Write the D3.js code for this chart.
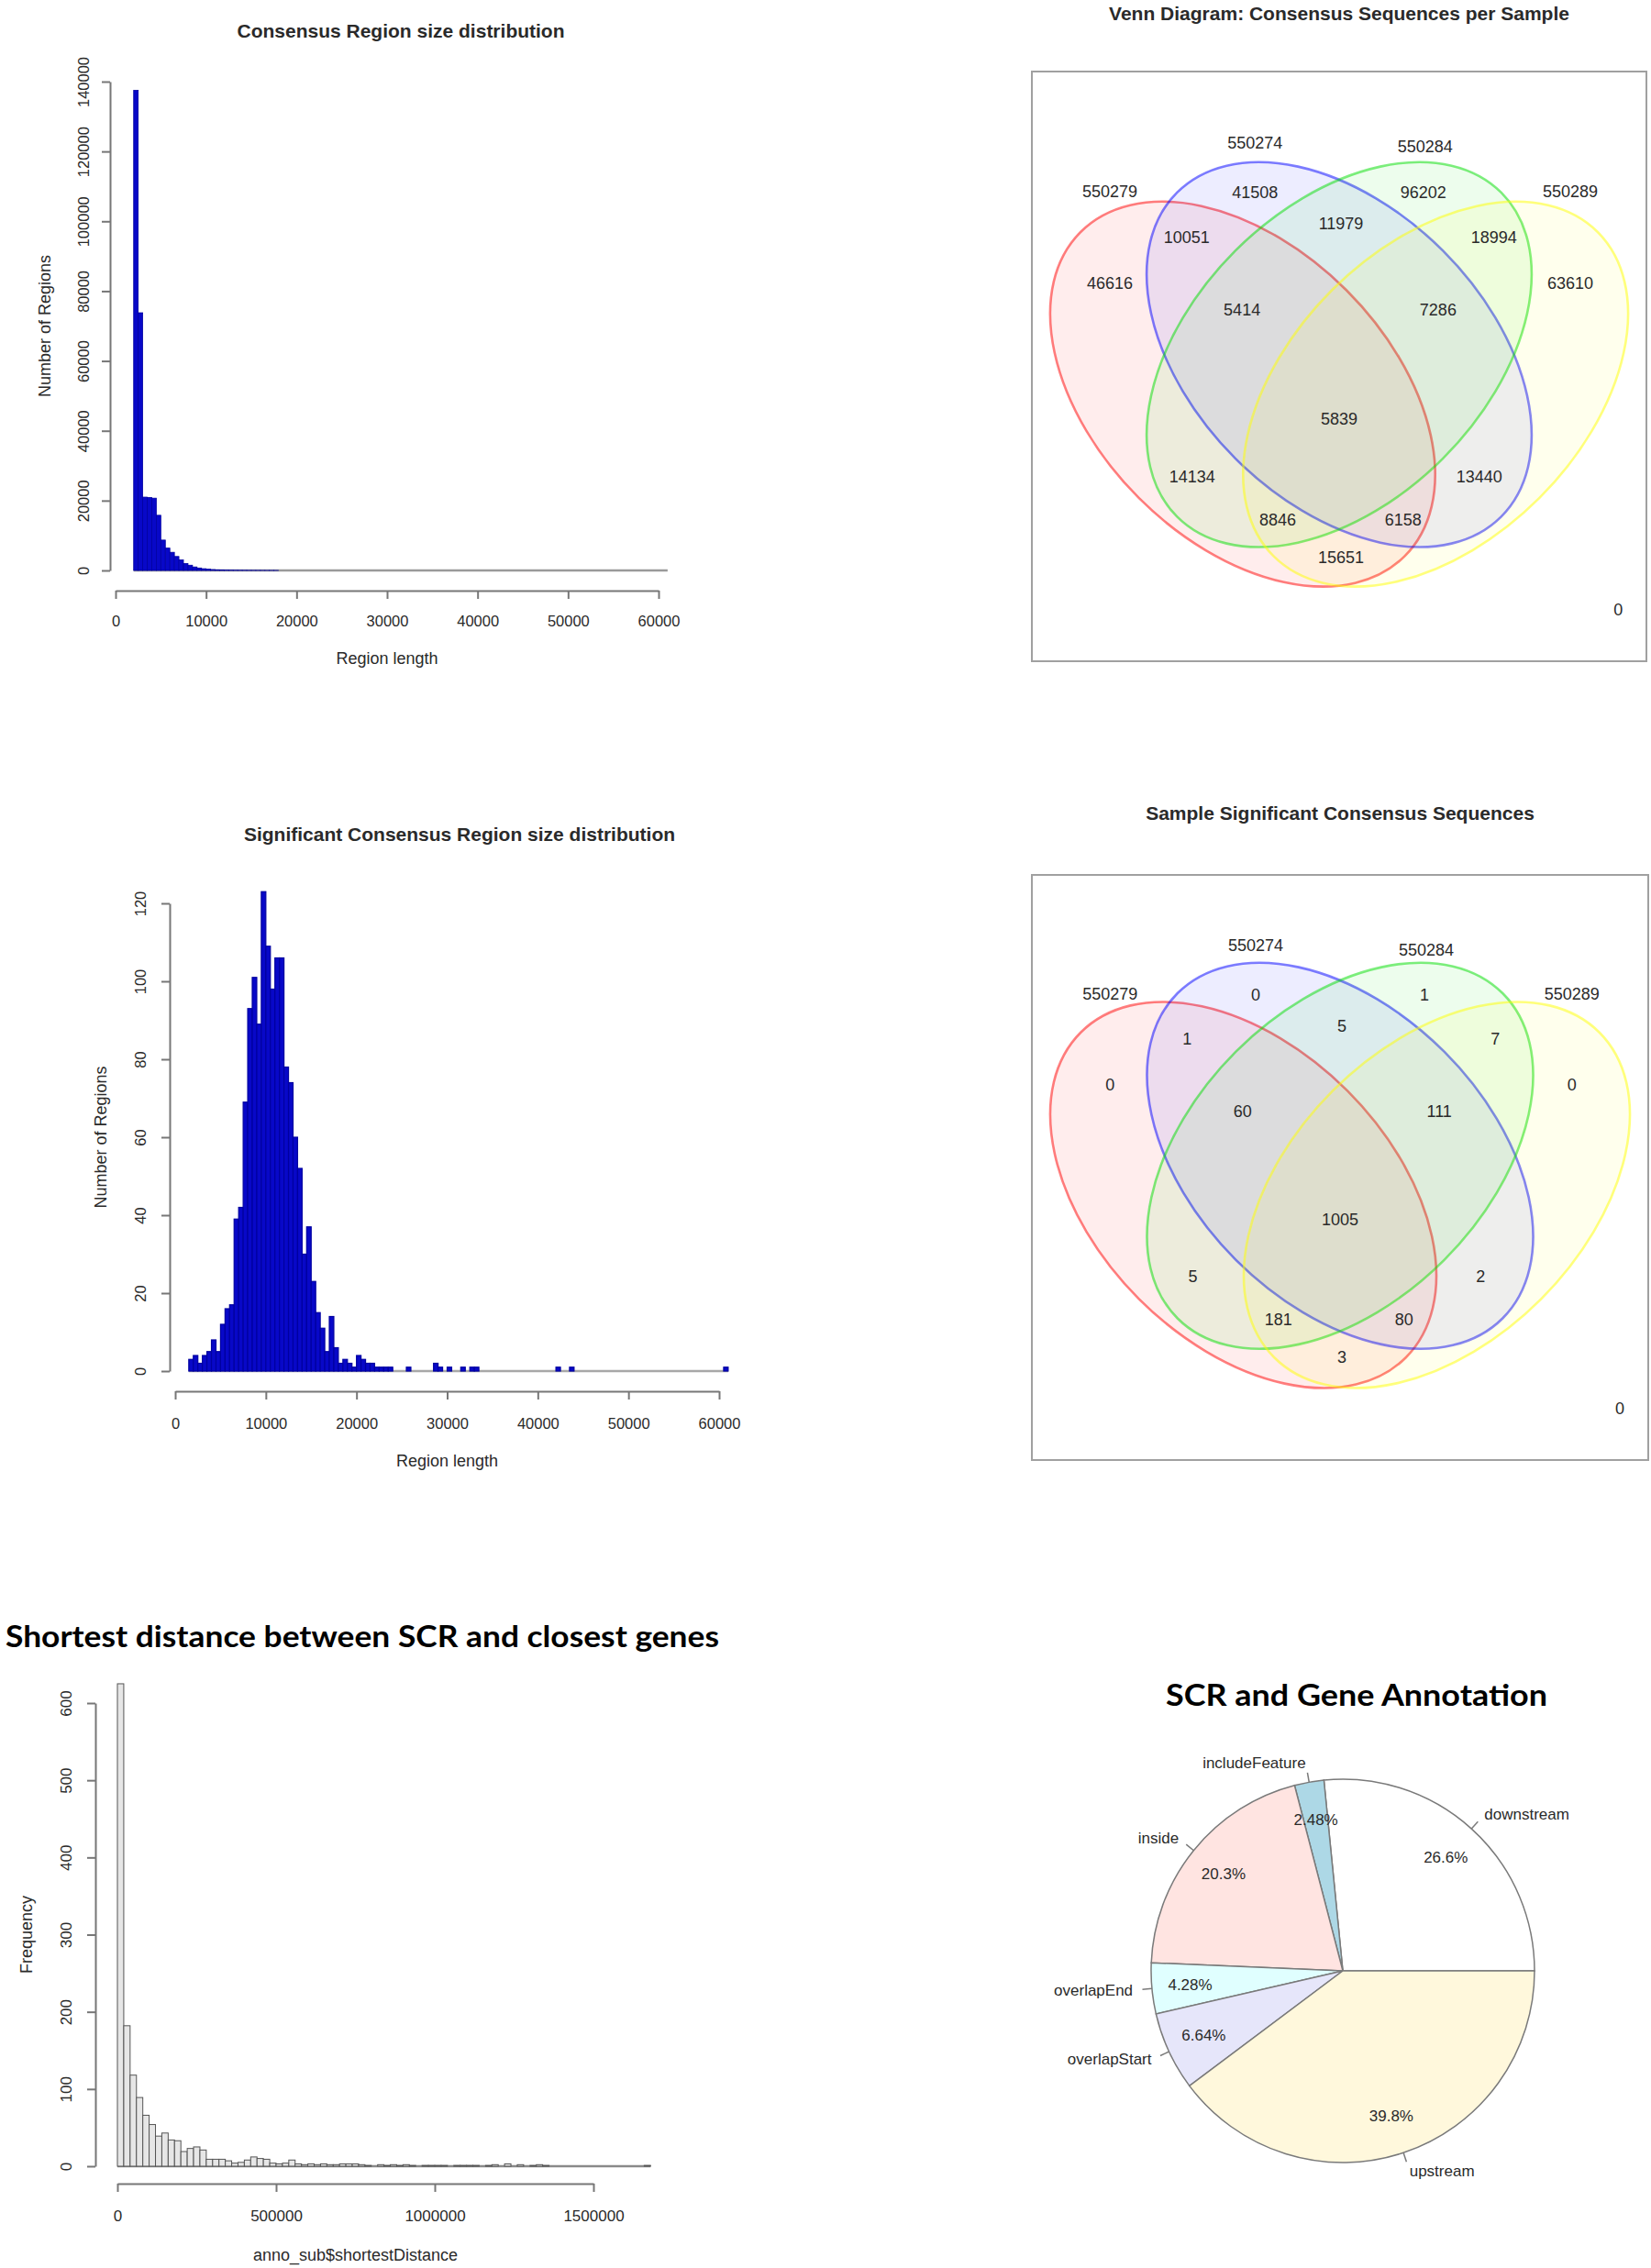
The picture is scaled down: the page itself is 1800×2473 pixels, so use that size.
<!DOCTYPE html>
<html>
<head>
<meta charset="utf-8">
<script src="https://cdn.jsdelivr.net/npm/d3@7"></script>
<style>
  body { margin: 0; background: #fff; }
  svg text { font-family: "Liberation Sans", Arial, sans-serif; fill: #2a2a2a; }
</style>
</head>
<body>
<div id="figure"></div>
<script>
// ---- data ----

// Consensus region length histogram, 500 bp bins starting at 2000
const consBinStart = 2000, consBinWidth = 500, consLastBreak = 61000;
const consCounts = [137500, 73800, 21000, 20900, 20700, 15800, 8700, 6400, 5200, 4000,
  3000, 2000, 1500, 1000, 700, 500, 350, 250, 180, 130,
  100, 80, 60, 50, 40, 30, 25, 20, 15, 10, 10, 5];

// Significant consensus region lengths, 500 bp bins starting at 1500
const sigBinStart = 1500, sigBinWidth = 500, sigLastBreak = 61000;
const sigCounts = [3, 4, 2, 4, 5, 8, 5, 12, 16, 17,
  39, 42, 69, 93, 101, 89, 123, 109, 98, 106,
  106, 78, 74, 60, 52, 30, 37, 23, 15, 11,
  5, 14, 6, 2, 3, 2, 1, 4, 3, 2,
  2, 1, 1, 1, 1];
const sigSparseStarts = [25500, 28500, 29000, 30000, 31500, 32500, 33000, 42000, 43500, 60500];
const sigSparseCounts = [1, 2, 1, 1, 1, 1, 1, 1, 1, 1];

// Shortest distance to closest gene, 20 kb bins from 0
const distBinWidth = 20000;
const distCounts = [625, 182, 118, 89, 66, 54, 39, 43, 34, 33,
  19, 23, 25, 21, 9, 9, 9, 7, 4, 5,
  8, 12, 10, 9, 4, 3, 4, 8, 3, 2,
  3, 2, 3, 2, 2, 3, 3, 3, 2, 1,
  0, 2, 1, 2, 1, 2, 1, 0, 1, 1,
  1, 1, 0, 1, 1, 1, 1, 0, 1, 2,
  0, 3, 0, 2, 0, 1, 2, 1, 0, 0,
  0, 0, 0, 0, 0, 0, 0, 0, 0, 0,
  0, 0, 0, 1];

// Venn diagrams (A=550279, B=550274, C=550284, D=550289)
const vennSets = ["550279", "550274", "550284", "550289"];
const vennRegions = ["A", "B", "C", "D", "AB", "BC", "CD", "ABC", "BCD", "ABCD", "AC", "BD", "ACD", "ABD", "AD", "none"];
const vennAllCounts = [46616, 41508, 96202, 63610, 10051, 11979, 18994, 5414, 7286, 5839, 14134, 13440, 8846, 6158, 15651, 0];
const vennSigCounts = [0, 0, 1, 0, 1, 5, 7, 60, 111, 1005, 5, 2, 181, 80, 3, 0];

// Gene annotation pie
const annoCategories = ["downstream", "includeFeature", "inside", "overlapEnd", "overlapStart", "upstream"];
const annoPercent = [26.6, 2.48, 20.3, 4.28, 6.64, 39.8];
const annoColors = ["white", "lightblue", "mistyrose", "lightcyan", "lavender", "cornsilk"];

// ---- drawing ----
const svg = d3.select("#figure").append("svg")
  .attr("width", 1800)
  .attr("height", 2473);

function toBins(start, width, counts) {
  return counts.map((c, i) => ({ x0: start + i * width, x1: start + (i + 1) * width, count: c }));
}

// R style histogram with detached axes
function drawHist(o) {
  const g = svg.append("g");
  const x = d3.scaleLinear().domain(o.xDomain).range(o.xRange);
  const y = d3.scaleLinear().domain(o.yDomain).range(o.yRange);

  // empty bins show up as a flat line along zero
  g.append("line")
    .attr("x1", x(o.baseFrom)).attr("x2", x(o.baseTo))
    .attr("y1", y(0)).attr("y2", y(0))
    .attr("stroke", o.baseColor).attr("stroke-width", 2.5);

  g.selectAll("rect").data(o.bins.filter(d => d.count > 0)).join("rect")
    .attr("x", d => x(d.x0))
    .attr("width", d => x(d.x1) - x(d.x0))
    .attr("y", d => y(d.count))
    .attr("height", d => y(0) - y(d.count))
    .attr("fill", o.fill)
    .attr("stroke", o.stroke)
    .attr("stroke-width", o.strokeWidth);

  const ya = g.append("g")
    .attr("transform", `translate(${o.yAxisX},0)`)
    .call(d3.axisLeft(y).tickValues(o.yTicks).tickFormat(d3.format("d")).tickSize(9).tickSizeOuter(0));
  ya.selectAll("text")
    .attr("x", 0).attr("y", 0).attr("dy", null)
    .attr("text-anchor", "middle")
    .attr("dominant-baseline", "central")
    .attr("transform", `translate(${-o.yLabelGap},0) rotate(-90)`);

  const xa = g.append("g")
    .attr("transform", `translate(0,${o.xAxisY})`)
    .call(d3.axisBottom(x).tickValues(o.xTicks).tickFormat(d3.format("d")).tickSize(9).tickSizeOuter(0));
  xa.selectAll("text")
    .attr("y", 0).attr("dy", null)
    .attr("dominant-baseline", "central")
    .attr("transform", `translate(0,${o.xLabelGap})`);

  [ya, xa].forEach(a => {
    a.attr("font-family", null).attr("font-size", null);
    a.selectAll("path, line").attr("stroke", "#777").attr("stroke-width", 2);
    a.selectAll("text").style("font-size", o.tickFont + "px");
  });

  if (o.title) {
    g.append("text")
      .attr("x", o.title.x).attr("y", o.title.y)
      .attr("text-anchor", "middle").attr("dominant-baseline", "central")
      .style("font-size", "21px").style("font-weight", "bold")
      .text(o.title.text);
  }
  g.append("text")
    .attr("x", (o.xRange[0] + o.xRange[1]) / 2).attr("y", o.xAxisY + o.xTitleGap)
    .attr("text-anchor", "middle").attr("dominant-baseline", "central")
    .style("font-size", o.axisFont + "px")
    .text(o.xTitle);
  g.append("text")
    .attr("transform", `translate(${o.yAxisX - o.yTitleGap},${(o.yRange[0] + o.yRange[1]) / 2}) rotate(-90)`)
    .attr("text-anchor", "middle").attr("dominant-baseline", "central")
    .style("font-size", o.axisFont + "px")
    .text(o.yTitle);
}

drawHist({
  bins: toBins(consBinStart, consBinWidth, consCounts),
  xDomain: [0, 60000], xRange: [126, 718],
  yDomain: [0, 140000], yRange: [622, 89],
  baseFrom: consBinStart, baseTo: consLastBreak, baseColor: "#9a9a9a",
  fill: "#0808c8", stroke: "#0000a0", strokeWidth: 0.8,
  yAxisX: 120, xAxisY: 644,
  yTicks: d3.range(0, 140001, 20000), xTicks: d3.range(0, 60001, 10000),
  yLabelGap: 29, xLabelGap: 33, tickFont: 16.5,
  title: { text: "Consensus Region size distribution", x: 437, y: 33 },
  xTitle: "Region length", yTitle: "Number of Regions",
  xTitleGap: 74, yTitleGap: 71, axisFont: 18
});

drawHist({
  bins: toBins(sigBinStart, sigBinWidth, sigCounts)
    .concat(sigSparseStarts.map((s, i) => ({ x0: s, x1: s + sigBinWidth, count: sigSparseCounts[i] }))),
  xDomain: [0, 60000], xRange: [191, 784],
  yDomain: [0, 120], yRange: [1495, 985],
  baseFrom: sigBinStart, baseTo: sigLastBreak, baseColor: "#a8a8a8",
  fill: "#0808c8", stroke: "#0000a0", strokeWidth: 1.2,
  yAxisX: 185, xAxisY: 1517,
  yTicks: d3.range(0, 121, 20), xTicks: d3.range(0, 60001, 10000),
  yLabelGap: 32, xLabelGap: 35, tickFont: 16.5,
  title: { text: "Significant Consensus Region size distribution", x: 501, y: 909 },
  xTitle: "Region length", yTitle: "Number of Regions",
  xTitleGap: 76, yTitleGap: 75, axisFont: 18
});

drawHist({
  bins: toBins(0, distBinWidth, distCounts),
  xDomain: [0, 1500000], xRange: [128, 647],
  yDomain: [0, 600], yRange: [2362, 1857],
  baseFrom: 0, baseTo: distCounts.length * distBinWidth, baseColor: "#8a8a8a",
  fill: "#e6e6e6", stroke: "#555", strokeWidth: 1,
  yAxisX: 104, xAxisY: 2381,
  yTicks: d3.range(0, 601, 100), xTicks: d3.range(0, 1500001, 500000),
  yLabelGap: 32, xLabelGap: 35, tickFont: 17,
  title: null,
  xTitle: "anno_sub$shortestDistance", yTitle: "Frequency",
  xTitleGap: 78, yTitleGap: 75, axisFont: 18
});

// bottom-row titles (slide text, humanist bold)
svg.append("text")
  .attr("x", 6).attr("y", 1783)
  .attr("dominant-baseline", "central")
  .attr("textLength", 778).attr("lengthAdjust", "spacingAndGlyphs")
  .style("font-family", "Lato, 'Open Sans', sans-serif")
  .style("font-size", "32px").style("font-weight", "bold").style("fill", "#000")
  .text("Shortest distance between SCR and closest genes");

// ---- Venn diagrams ----
// ellipse geometry and label spots as fractions of the framed box
const vennEllipses = [
  { cx: 0.343, cy: 0.547, rot: 45, color: "red" },
  { cx: 0.5, cy: 0.48, rot: 45, color: "blue" },
  { cx: 0.5, cy: 0.48, rot: -45, color: "#00dd00" },
  { cx: 0.657, cy: 0.547, rot: -45, color: "yellow" }
];
const vennSetLabelPos = [[0.127, 0.204], [0.363, 0.121], [0.640, 0.128], [0.876, 0.204]];
const vennRegionPos = {
  A: [0.127, 0.359], B: [0.363, 0.205], C: [0.637, 0.205], D: [0.876, 0.359],
  AB: [0.252, 0.281], BC: [0.503, 0.258], CD: [0.752, 0.281],
  ABC: [0.342, 0.404], BCD: [0.661, 0.404], ABCD: [0.5, 0.589],
  AC: [0.261, 0.687], BD: [0.728, 0.687], ACD: [0.4, 0.760], ABD: [0.604, 0.760],
  AD: [0.503, 0.824], none: [0.954, 0.913]
};

function drawVenn(box, counts, title, titleY) {
  const g = svg.append("g").attr("transform", `translate(${box.x},${box.y})`);
  const bx = d3.scaleLinear().domain([0, 1]).range([0, box.w]);
  const by = d3.scaleLinear().domain([0, 1]).range([0, box.h]);

  g.append("rect").attr("width", box.w).attr("height", box.h)
    .attr("fill", "none").attr("stroke", "#a0a0a0").attr("stroke-width", 2);

  const ra = 0.373 * box.w, rb = 0.239 * box.w;
  g.selectAll("ellipse").data(vennEllipses).join("ellipse")
    .attr("transform", d => `translate(${bx(d.cx)},${by(d.cy)}) rotate(${d.rot})`)
    .attr("rx", ra).attr("ry", rb)
    .attr("fill", d => d.color).attr("fill-opacity", 0.07)
    .attr("stroke", d => d.color).attr("stroke-opacity", 0.5).attr("stroke-width", 2.6);

  g.selectAll("text.set").data(vennSets).join("text")
    .attr("class", "set")
    .attr("x", (d, i) => bx(vennSetLabelPos[i][0]))
    .attr("y", (d, i) => by(vennSetLabelPos[i][1]))
    .attr("text-anchor", "middle").attr("dominant-baseline", "central")
    .style("font-size", "18px")
    .text(d => d);

  g.selectAll("text.count").data(vennRegions).join("text")
    .attr("class", "count")
    .attr("x", d => bx(vennRegionPos[d][0]))
    .attr("y", d => by(vennRegionPos[d][1]))
    .attr("text-anchor", "middle").attr("dominant-baseline", "central")
    .style("font-size", "18px")
    .text((d, i) => counts[i]);

  svg.append("text")
    .attr("x", box.x + box.w / 2).attr("y", titleY)
    .attr("text-anchor", "middle").attr("dominant-baseline", "central")
    .style("font-size", "21px").style("font-weight", "bold")
    .text(title);
}

drawVenn({ x: 1125, y: 78, w: 670, h: 643 }, vennAllCounts,
  "Venn Diagram: Consensus Sequences per Sample", 14);
drawVenn({ x: 1125, y: 954, w: 672, h: 638 }, vennSigCounts,
  "Sample Significant Consensus Sequences", 886);

// ---- annotation pie (R pie: counter-clockwise from 3 o'clock) ----
const pieCx = 1464, pieCy = 2149, pieR = 209;
const pg = svg.append("g").attr("transform", `translate(${pieCx},${pieCy})`);
const slices = d3.pie().sort(null)
  .startAngle(Math.PI / 2).endAngle(Math.PI / 2 - 2 * Math.PI)(annoPercent);
const arc = d3.arc().innerRadius(0).outerRadius(pieR);
const polar = (a, r) => [Math.sin(a) * r, -Math.cos(a) * r];

pg.selectAll("path").data(slices).join("path")
  .attr("d", arc)
  .attr("fill", (d, i) => annoColors[i])
  .attr("stroke", "#7a7a7a").attr("stroke-width", 1.5);

pg.selectAll("line.tick").data(slices).join("line")
  .attr("class", "tick")
  .each(function (d) {
    const a = (d.startAngle + d.endAngle) / 2;
    const p0 = polar(a, pieR), p1 = polar(a, pieR * 1.05);
    d3.select(this).attr("x1", p0[0]).attr("y1", p0[1]).attr("x2", p1[0]).attr("y2", p1[1]);
  })
  .attr("stroke", "#7a7a7a").attr("stroke-width", 1.5);

pg.selectAll("text.cat").data(slices).join("text")
  .attr("class", "cat")
  .each(function (d, i) {
    const a = (d.startAngle + d.endAngle) / 2;
    const p = polar(a, pieR * 1.1);
    d3.select(this).attr("x", p[0]).attr("y", p[1])
      .attr("text-anchor", p[0] < 0 ? "end" : "start");
  })
  .attr("dominant-baseline", "central")
  .style("font-size", "17px")
  .text((d, i) => annoCategories[i]);

pg.selectAll("text.pct").data(slices).join("text")
  .attr("class", "pct")
  .each(function (d) {
    const a = (d.startAngle + d.endAngle) / 2;
    const p = polar(a, pieR * 0.8);
    d3.select(this).attr("x", p[0]).attr("y", p[1]);
  })
  .attr("text-anchor", "middle").attr("dominant-baseline", "central")
  .style("font-size", "17px")
  .text((d, i) => annoPercent[i] + "%");

svg.append("text")
  .attr("x", 1479).attr("y", 1847)
  .attr("text-anchor", "middle").attr("dominant-baseline", "central")
  .attr("textLength", 416).attr("lengthAdjust", "spacingAndGlyphs")
  .style("font-family", "Lato, 'Open Sans', sans-serif")
  .style("font-size", "32px").style("font-weight", "bold").style("fill", "#000")
  .text("SCR and Gene Annotation");
</script>
</body>
</html>
